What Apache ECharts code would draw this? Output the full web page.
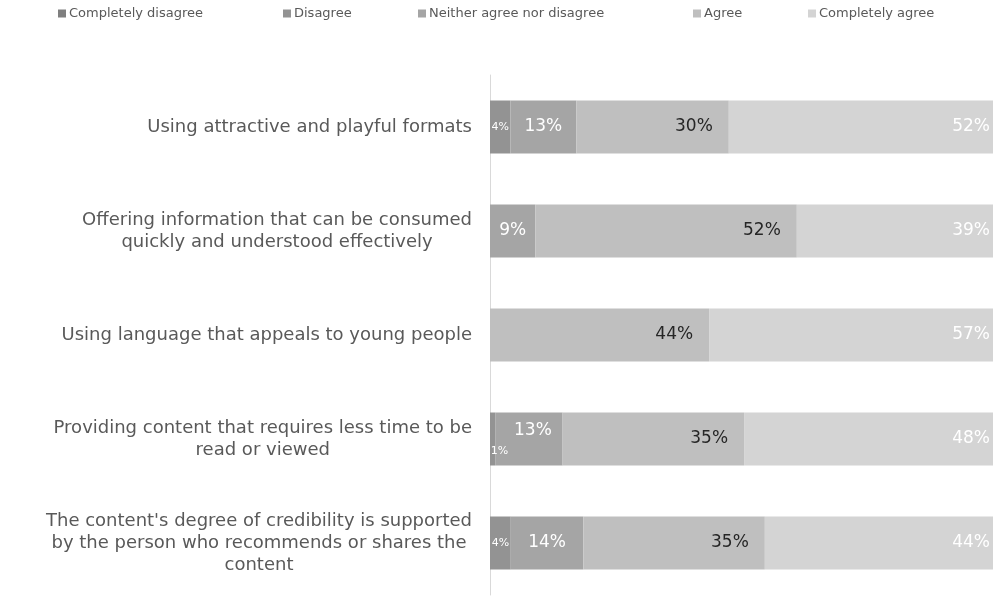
<!DOCTYPE html>
<html>
<head>
<meta charset="utf-8">
<script src="https://cdn.jsdelivr.net/npm/echarts@6/dist/echarts.min.js"></script>
<style>
  html, body { margin: 0; padding: 0; background: #ffffff; }
  #chart { width: 1005px; height: 596px; }
</style>
</head>
<body>
<div id="chart"></div>
<script>
// Statements about what makes content appealing, top to bottom
const categories = [
  'Using attractive and playful formats',
  'Offering information that can be consumed\nquickly and understood effectively',
  'Using language that appeals to young people',
  'Providing content that requires less time to be\nread or viewed',
  "The content's degree of credibility is supported\nby the person who recommends or shares the\ncontent"
];

// Answer shares in percent, one array per answer
const completelyDisagree = [0, 0, 0, 0, 0];
const disagree           = [4, 0, 0, 1, 4];
const neither            = [13, 9, 0, 13, 14];
const agree              = [30, 52, 44, 35, 35];
const completelyAgree    = [52, 39, 57, 48, 44];

const seriesNames = ['Completely disagree', 'Disagree', 'Neither agree nor disagree', 'Agree', 'Completely agree'];
const seriesValues = [completelyDisagree, disagree, neither, agree, completelyAgree];
const seriesColors = ['#7f7f7f', '#939393', '#a5a5a5', '#bfbfbf', '#d4d4d4'];
const labelColors  = ['#ffffff', '#ffffff', '#ffffff', '#262626', '#ffffff'];

const FONT = 'DejaVu Sans';

// Each row is drawn as a 100% stacked bar
const rowTotals = categories.map((_, i) => seriesValues.reduce((s, arr) => s + arr[i], 0));

function labelFor(sIdx, i) {
  const v = seriesValues[sIdx][i];
  const base = {
    show: v > 0,
    color: labelColors[sIdx],
    fontFamily: FONT,
    fontSize: v < 5 ? 11 : 17,
    formatter: () => v + '%'
  };
  if (sIdx === 1 || sIdx === 2) {
    base.position = 'inside';
  } else if (sIdx === 3) {
    base.position = 'insideRight';
    base.distance = 16;
  } else {
    base.position = 'insideRight';
    base.distance = 3;
  }
  // Row 4 has a very thin first segment, labels are nudged apart
  if (i === 3 && sIdx === 1) base.offset = [7, 12];
  if (i === 3 && sIdx === 2) base.offset = [4, -8];
  return base;
}

const series = seriesNames.map((name, sIdx) => ({
  name: name,
  type: 'bar',
  stack: 'total',
  barWidth: 53,
  itemStyle: { color: seriesColors[sIdx] },
  emphasis: { disabled: true },
  data: seriesValues[sIdx].map((v, i) => ({
    value: v / rowTotals[i] * 100,
    label: labelFor(sIdx, i)
  }))
}));

// Legend entries laid out individually across the top
const legendLefts = [53, 278, 413, 688, 803];
const legends = seriesNames.map((name, k) => ({
  data: [name],
  left: legendLefts[k],
  top: 2,
  icon: 'rect',
  itemWidth: 8,
  itemHeight: 8,
  itemGap: 0,
  selectedMode: false,
  textStyle: { color: '#595959', fontFamily: FONT, fontSize: 13, padding: [0, 0, 0, -2] }
}));

const chart = echarts.init(document.getElementById('chart'), null, { renderer: 'canvas' });
chart.setOption({
  backgroundColor: '#ffffff',
  animation: false,
  color: seriesColors,
  legend: legends,
  grid: { left: 490, right: 12, top: 75, bottom: 1, containLabel: false },
  xAxis: {
    type: 'value',
    min: 0,
    max: 100,
    show: false
  },
  yAxis: {
    type: 'category',
    inverse: true,
    data: categories,
    axisLine: { show: true, lineStyle: { color: '#d9d9d9', width: 1 } },
    axisTick: { show: false },
    axisLabel: {
      margin: 18,
      formatter: (val) => val.split('\n').map(l => '{c|' + l + '}').join('\n'),
      rich: {
        c: { align: 'center', color: '#595959', fontFamily: FONT, fontSize: 18, lineHeight: 22 }
      }
    }
  },
  series: series
});
</script>
</body>
</html>
